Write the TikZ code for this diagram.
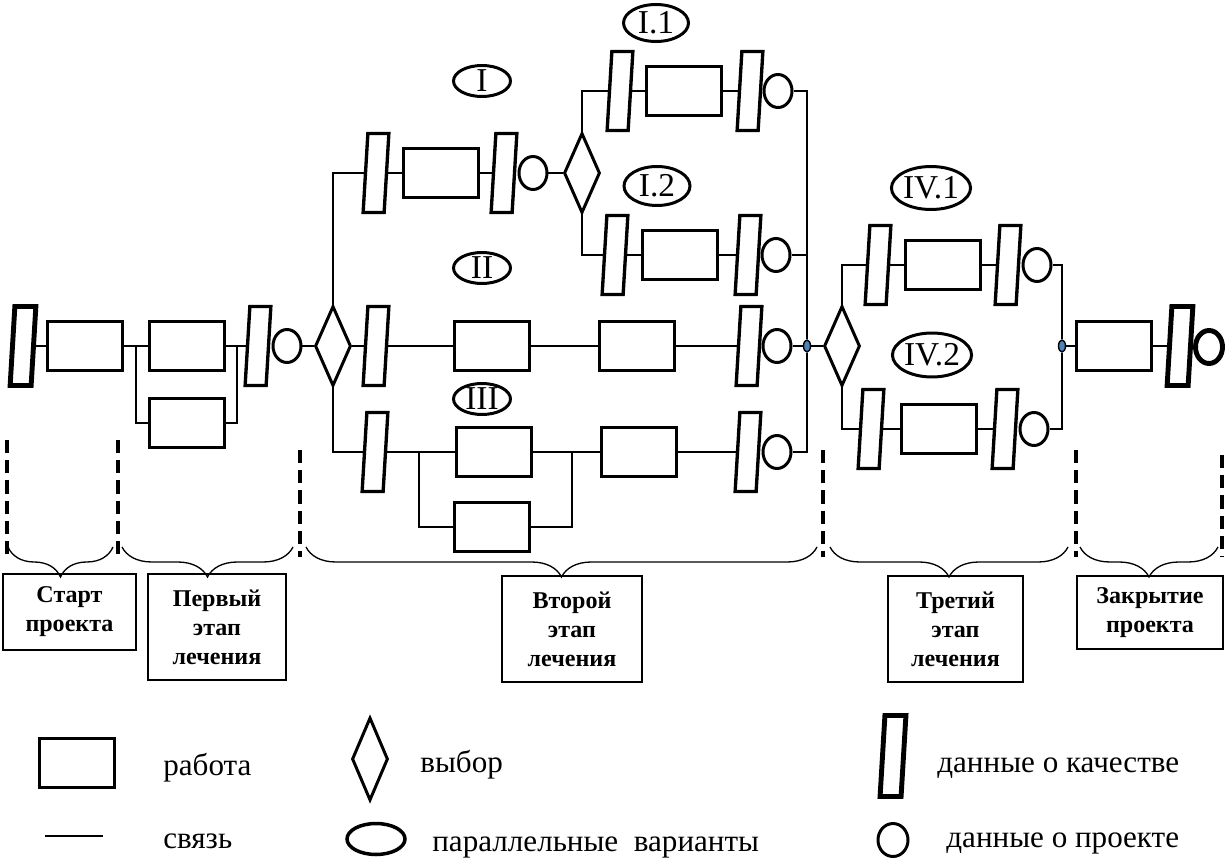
\documentclass[tikz,border=0pt]{standalone}
\usepackage{fontspec}
\setmainfont{Liberation Serif}
\usetikzlibrary{shapes.geometric,decorations.pathreplacing}
\definecolor{dotblue}{RGB}{79,129,189}

\begin{document}
\begin{tikzpicture}[x=0.02cm, y=-0.02cm,
    work/.style={draw, rectangle, line width=1.9pt, minimum width=1.49cm, minimum height=0.97cm, inner sep=0pt},
    quality/.style={draw, rectangle, xslant=0.06, line width=1.9pt, minimum width=0.42cm, minimum height=1.58cm, inner sep=0pt},
    qualitybold/.style={quality, line width=2.8pt},
    project/.style={draw, ellipse, line width=1.7pt, minimum width=0.56cm, minimum height=0.66cm, inner sep=0pt},
    choice/.style={draw, diamond, line width=1.7pt, minimum width=0.72cm, minimum height=1.6cm, inner sep=0pt},
    variant/.style={draw, ellipse, line width=1.7pt, inner sep=0pt, font=\fontsize{19}{19}\selectfont},
    joint/.style={draw, ellipse, fill=dotblue, line width=0.8pt, minimum width=0.14cm, minimum height=0.24cm, inner sep=0pt},
    link/.style={line width=0.7pt},
    stagebox/.style={draw, line width=0.75pt, align=center, inner sep=0pt, font=\fontsize{13.7}{16.5}\selectfont\bfseries},
    stageborder/.style={line width=2pt, dash pattern=on 7.5pt off 4pt},
    stagebrace/.style={line width=0.75pt, decorate, decoration={brace, mirror, amplitude=0.6cm}},
    legendtext/.style={anchor=base west, inner sep=0pt, font=\fontsize{17.7}{17.7}\selectfont}]
    \useasboundingbox (0,0) rectangle (1227,861);

    % start and first stage
    \node[qualitybold] (qS) at (23,346) {};
    \node[work] (wS) at (85,346) {};
    \node[work] (w1a) at (187,346) {};
    \node[work] (w1b) at (187,423) {};
    \node[quality] (q1) at (258,346) {};
    \node[project] (d1) at (287,346) {};
    \node[choice] (c2) at (333,346) {};
    \coordinate (s1) at (136,346);
    \coordinate (s2) at (237,346);
    \draw[link] (qS.east) -- (wS.west);
    \draw[link] (wS.east) -- (w1a.west);
    \draw[link] (w1a.east) -- (q1.west);
    \draw[link] (s1) |- (w1b.west);
    \draw[link] (s2) |- (w1b.east);
    \draw[link] (d1.east) -- (c2.west);

    % variant I
    \node[variant, minimum width=1.14cm, minimum height=0.62cm] (lI) at (482,81) {I};
    \node[quality] (qIa) at (376,173) {};
    \node[work] (wI) at (441,173) {};
    \node[quality] (qIb) at (504,173) {};
    \node[project] (dI) at (533,173) {};
    \node[choice] (cI) at (582,173) {};
    \draw[link] (c2.north) |- (qIa.west);
    \draw[link] (qIa.east) -- (wI.west);
    \draw[link] (wI.east) -- (qIb.west);
    \draw[link] (dI.east) -- (cI.west);

    % variant I.1
    \node[variant, minimum width=1.3cm, minimum height=0.74cm] (lI1) at (656,23) {I.1};
    \node[quality] (qI1a) at (620,91) {};
    \node[work] (wI1) at (684,91) {};
    \node[quality] (qI1b) at (750,91) {};
    \node[project] (dI1) at (778,91) {};
    \draw[link] (cI.north) |- (qI1a.west);
    \draw[link] (qI1a.east) -- (wI1.west);
    \draw[link] (wI1.east) -- (qI1b.west);

    % variant I.2
    \node[variant, minimum width=1.32cm, minimum height=0.78cm] (lI2) at (657,186) {I.2};
    \node[quality] (qI2a) at (615,255) {};
    \node[work] (wI2) at (680,255) {};
    \node[quality] (qI2b) at (748,255) {};
    \node[project] (dI2) at (776,255) {};
    \draw[link] (cI.south) |- (qI2a.west);
    \draw[link] (qI2a.east) -- (wI2.west);
    \draw[link] (wI2.east) -- (qI2b.west);

    % variant II
    \node[variant, minimum width=1.14cm, minimum height=0.62cm] (lII) at (482,268) {II};
    \node[quality] (qIIa) at (376,346) {};
    \node[work] (wII1) at (492,346) {};
    \node[work] (wII2) at (637,346) {};
    \node[quality] (qIIb) at (749,346) {};
    \node[project] (dII) at (777,346) {};
    \node[joint] (dot2) at (807,346) {};
    \draw[link] (c2.east) -- (qIIa.west);
    \draw[link] (qIIa.east) -- (wII1.west);
    \draw[link] (wII1.east) -- (wII2.west);
    \draw[link] (wII2.east) -- (qIIb.west);
    \draw[link] (dII.east) -- (dot2.west);

    % variant III
    \node[variant, minimum width=1.14cm, minimum height=0.62cm] (lIII) at (482,399) {III};
    \node[quality] (qIIIa) at (375,452) {};
    \node[work] (wIII1) at (494,452) {};
    \node[work] (wIII2) at (492,527) {};
    \node[work] (wIII3) at (639,452) {};
    \node[quality] (qIIIb) at (748,452) {};
    \node[project] (dIII) at (777,452) {};
    \coordinate (s3) at (419,452);
    \coordinate (s4) at (572,452);
    \draw[link] (c2.south) |- (qIIIa.west);
    \draw[link] (qIIIa.east) -- (wIII1.west);
    \draw[link] (wIII1.east) -- (wIII3.west);
    \draw[link] (wIII3.east) -- (qIIIb.west);
    \draw[link] (s3) |- (wIII2.west);
    \draw[link] (s4) |- (wIII2.east);

    % joining the second stage
    \draw[link] (dI1.east) -| (dot2.north);
    \draw[link] (dI2.east) -- (dI2.east -| dot2.north);
    \draw[link] (dIII.east) -| (dot2.south);

    % third stage
    \node[choice] (c4) at (842,346) {};
    \draw[link] (dot2.east) -- (c4.west);
    \node[variant, minimum width=1.56cm, minimum height=0.86cm] (lIV1) at (931,188) {IV.1};
    \node[quality] (qIV1a) at (878,265) {};
    \node[work] (wIV1) at (943,265) {};
    \node[quality] (qIV1b) at (1008,265) {};
    \node[project] (dIV1) at (1037,265) {};
    \node[variant, minimum width=1.54cm, minimum height=0.88cm] (lIV2) at (932,355) {IV.2};
    \node[quality] (qIV2a) at (871,429) {};
    \node[work] (wIV2) at (939,429) {};
    \node[quality] (qIV2b) at (1005,429) {};
    \node[project] (dIV2) at (1034,429) {};
    \node[joint] (dot3) at (1062,346) {};
    \draw[link] (c4.north) |- (qIV1a.west);
    \draw[link] (qIV1a.east) -- (wIV1.west);
    \draw[link] (wIV1.east) -- (qIV1b.west);
    \draw[link] (c4.south) |- (qIV2a.west);
    \draw[link] (qIV2a.east) -- (wIV2.west);
    \draw[link] (wIV2.east) -- (qIV2b.west);
    \draw[link] (dIV1.east) -| (dot3.north);
    \draw[link] (dIV2.east) -| (dot3.south);

    % closing
    \node[work] (wE) at (1114,346) {};
    \node[qualitybold] (qE) at (1180,346) {};
    \node[project, line width=2.8pt, minimum width=0.54cm] (dE) at (1209,347) {};
    \draw[link] (dot3.east) -- (wE.west);
    \draw[link] (wE.east) -- (qE.west);

    % stage borders and braces
    \draw[stageborder] (7,440) -- (7,555);
    \draw[stageborder] (118,440) -- (118,555);
    \draw[stageborder] (300,450) -- (300,557);
    \draw[stageborder] (823,450) -- (823,557);
    \draw[stageborder] (1076,450) -- (1076,557);
    \draw[stageborder] (1222,455) -- (1222,557);
    \draw[stagebrace] (8,547) -- (113,547);
    \draw[stagebrace] (122,547) -- (293,547);
    \draw[stagebrace] (306,547) -- (817,547);
    \draw[stagebrace] (830,547) -- (1068,547);
    \draw[stagebrace] (1080,547) -- (1218,547);
    \node[stagebox, minimum width=2.66cm, minimum height=1.52cm] (sStart) at (69.5,612) {Старт\\проекта};
    \node[stagebox, minimum width=2.76cm, minimum height=2.12cm] (sFirst) at (217,627) {Первый\\этап\\лечения};
    \node[stagebox, minimum width=2.8cm, minimum height=2.12cm] (sSecond) at (572,629) {Второй\\этап\\лечения};
    \node[stagebox, minimum width=2.7cm, minimum height=2.12cm] (sThird) at (955.5,629) {Третий\\этап\\лечения};
    \node[stagebox, minimum width=2.92cm, minimum height=1.46cm] (sClose) at (1150,612.5) {Закрытие\\проекта};

    % legend
    \node[work] (lgWork) at (77,763) {};
    \node[legendtext] (lgWorkText) at (163,775) {работа};
    \coordinate (lgA) at (45,836);
    \coordinate (lgB) at (103,836);
    \draw[link] (lgA) -- (lgB);
    \node[legendtext] (lgLinkText) at (163,848) {связь};
    \node[choice, minimum height=1.66cm] (lgChoice) at (370,759) {};
    \node[legendtext] (lgChoiceText) at (420,772) {выбор};
    \node[variant, minimum width=1.16cm, minimum height=0.62cm, line width=2pt] (lgVariant) at (376,839) {};
    \node[legendtext] (lgVariantText) at (432,851) {параллельные\ \ варианты};
    \node[qualitybold, minimum height=1.62cm] (lgQuality) at (893,756) {};
    \node[legendtext] (lgQualityText) at (937,772) {данные о качестве};
    \node[project, minimum width=0.6cm] (lgProject) at (893,840) {};
    \node[legendtext] (lgProjectText) at (946,847) {данные о проекте};
\end{tikzpicture}
\end{document}
